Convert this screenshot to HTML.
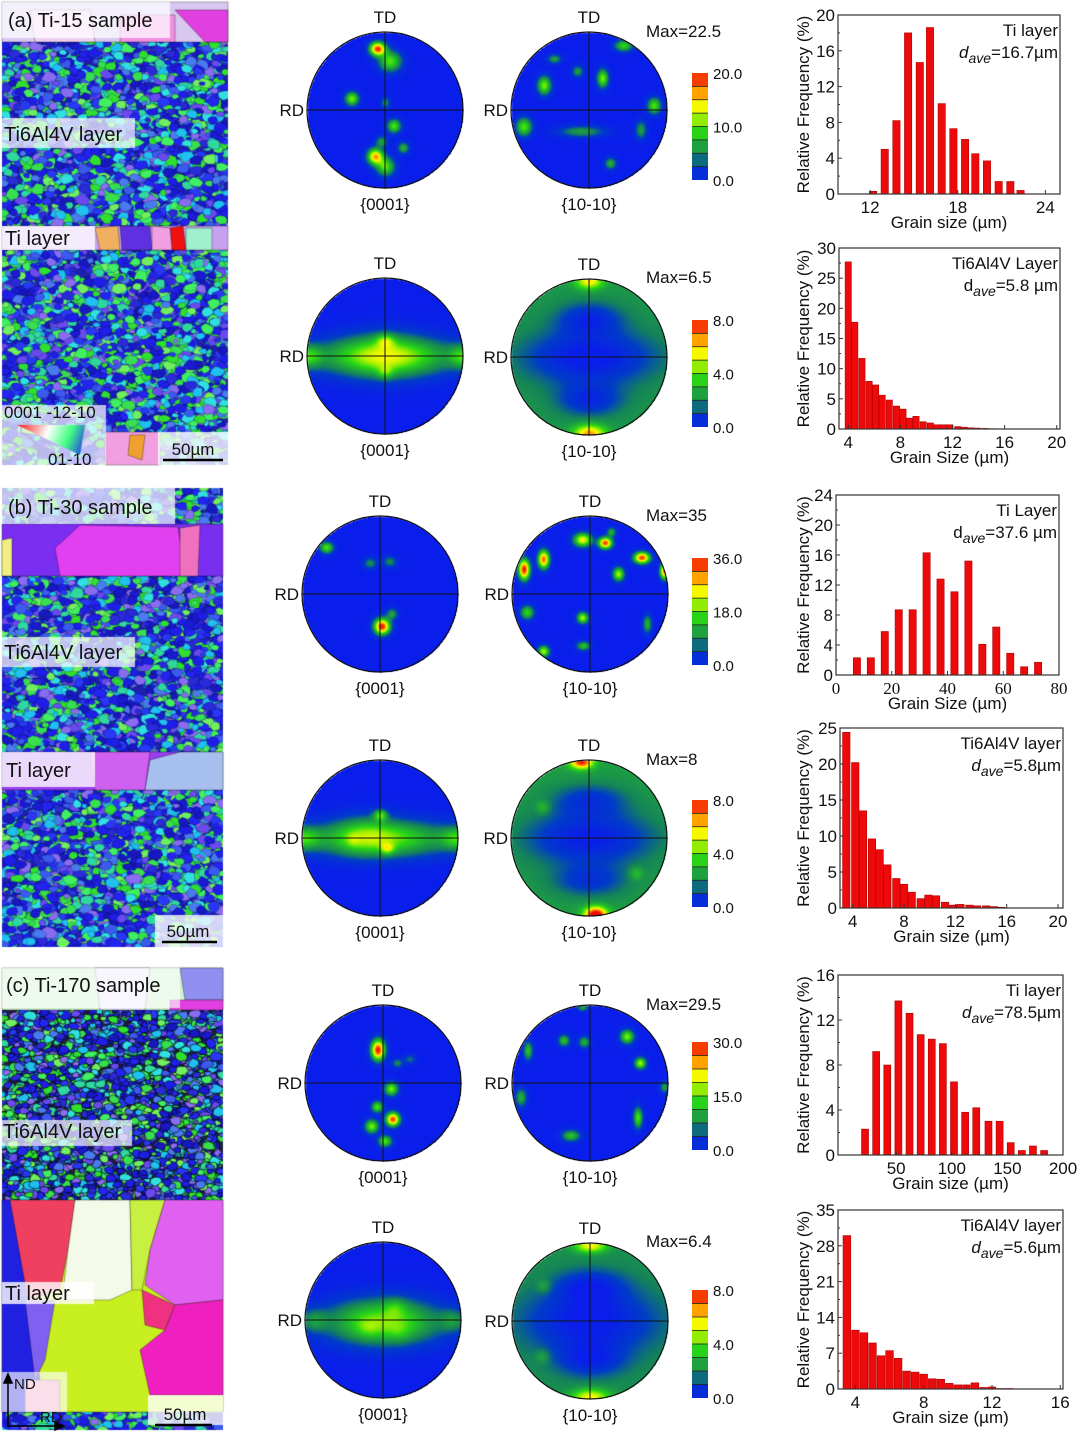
<!DOCTYPE html>
<html><head><meta charset="utf-8">
<style>
html,body{margin:0;padding:0;background:#fff;}
#root{position:relative;width:1080px;height:1432px;overflow:hidden;font-family:"Liberation Sans",sans-serif;}
canvas{position:absolute;left:0;top:0;}
svg{position:absolute;left:0;top:0;}
</style></head>
<body>
<div id="root">
<canvas id="ebsd" width="1080" height="1432"></canvas>
<canvas id="poles" width="1080" height="1432"></canvas>
<svg id="ov" width="1080" height="1432" viewBox="0 0 1080 1432"></svg>
</div>
<script>
// ---------- Histogram data ----------
const h1Centers=[12.2,13.0,13.8,14.6,15.4,16.1,16.9,17.7,18.5,19.2,20.0,20.8,21.6,22.3];
const h1Values=[0.3,5.0,8.2,18.0,14.7,18.6,10.1,7.3,6.1,4.5,3.7,1.4,1.4,0.4];
const h1XTicks=[12,18,24];
const h1YTicks=[0,4,8,12,16,20];

const h2Centers=[4.0,4.5,5.05,5.6,6.1,6.6,7.15,7.7,8.2,8.7,9.2,9.75,10.3,10.8,11.3,11.8,12.4,12.9,13.4,13.9,14.5,15.0];
const h2Values=[27.7,17.7,11.7,7.9,7.3,5.6,4.8,3.8,3.3,1.8,2.1,1.2,1.0,0.7,0.7,0.7,0.4,0.3,0.2,0.15,0.1,0.05];
const h2XTicks=[4,8,12,16,20];
const h2YTicks=[0,5,10,15,20,25,30];

const h3Centers=[7.5,12.5,17.5,22.5,27.5,32.5,37.5,42.5,47.5,52.5,57.5,62.5,67.5,72.5];
const h3Values=[2.3,2.3,5.8,8.7,8.7,16.3,12.8,11.1,15.2,4.1,6.4,2.9,1.1,1.7];
const h3XTicks=[0,20,40,60,80];
const h3YTicks=[0,4,8,12,16,20,24];

const h4Centers=[3.5,4.2,4.8,5.5,6.1,6.7,7.4,8.0,8.6,9.3,9.9,10.5,11.2,11.8,12.4,13.1,13.7,14.4,15.0,15.6];
const h4Values=[24.4,20.2,13.5,9.6,8.1,6.0,4.1,3.3,2.2,1.3,1.8,1.7,0.8,0.4,0.5,0.4,0.3,0.3,0.2,0.1];
const h4XTicks=[4,8,12,16,20];
const h4YTicks=[0,5,10,15,20,25];

const h5Centers=[22,32,42,52,62,72,82,92,102,112,122,133,143,153,163,173,183];
const h5Values=[2.3,9.2,8.0,13.7,12.6,10.7,10.3,9.9,6.5,3.8,4.2,3.0,3.0,1.1,0.4,0.8,0.4];
const h5XTicks=[50,100,150,200];
const h5YTicks=[0,4,8,12,16];

const h6Centers=[3.5,4.0,4.5,5.0,5.5,6.0,6.5,7.0,7.5,8.0,8.5,9.0,9.5,10.0,10.5,11.0,11.5,12.0,12.5,13.0];
const h6Values=[30,11.5,11,9,6.5,7.5,6,3.5,3.3,2.9,2,1.9,1.1,0.8,0.8,1.2,0.3,0.4,0.1,0.1];
const h6XTicks=[4,8,12,16];
const h6YTicks=[0,7,14,21,28,35];

// ---------- Pole figure blobs: [u, v, sx, sy, intensity] ----------
const pfA1a=[[-0.10,-0.79,0.07,0.06,0.95],[0.06,-0.63,0.10,0.09,0.5],[-0.43,-0.15,0.06,0.06,0.55],[0.11,0.20,0.06,0.06,0.5],[-0.13,0.59,0.07,0.07,0.8],[0.0,0.72,0.08,0.08,0.5],[0.23,0.48,0.05,0.05,0.35],[0,-0.1,0.04,0.05,0.25],[-0.05,0.4,0.05,0.05,0.3]];
const pfA1b=[[0.44,-0.83,0.08,0.05,0.45],[-0.58,-0.32,0.06,0.08,0.55],[0.17,-0.41,0.05,0.08,0.55],[0.83,-0.06,0.06,0.07,0.5],[-0.84,0.21,0.07,0.08,0.5],[-0.1,0.27,0.2,0.05,0.3],[0.27,0.68,0.05,0.05,0.35],[-0.45,-0.66,0.06,0.04,0.3],[-0.15,-0.5,0.05,0.05,0.3],[0.66,0.25,0.05,0.08,0.3]];
const pfA2a=[[0,0,0.62,0.17,0.55],[0,-0.02,0.32,0.22,0.15],[0,-0.2,0.08,0.06,0.3],[0,0.2,0.07,0.06,0.2],[-1,0,0.12,0.1,0.35],[1,0,0.12,0.1,0.35]];
const pfA2b=[[0,0,0.6,0.25,-0.3],[0,-0.5,0.3,0.15,-0.22],[0,0.55,0.3,0.15,-0.22],[0,-0.98,0.12,0.07,0.45],[0,0.98,0.14,0.08,0.55]];
const pfB1a=[[-0.69,-0.6,0.06,0.05,0.5],[0.02,0.41,0.07,0.07,1.0],[-0.13,-0.4,0.06,0.05,0.25],[0.12,-0.42,0.06,0.05,0.25],[0.15,0.25,0.05,0.05,0.3]];
const pfB1b=[[-0.85,-0.32,0.05,0.09,1.0],[-0.6,-0.45,0.05,0.08,0.9],[-0.1,-0.7,0.08,0.06,0.7],[0.19,-0.66,0.06,0.05,0.95],[0.66,-0.47,0.07,0.05,0.95],[0.95,-0.3,0.04,0.07,0.9],[0.36,-0.26,0.05,0.06,0.6],[-0.1,0.3,0.05,0.05,0.6],[-0.81,0.23,0.06,0.06,0.45],[-0.6,0.73,0.05,0.05,0.6],[-0.09,0.66,0.06,0.04,0.4],[0.73,0.38,0.04,0.08,0.35],[0.27,-0.8,0.04,0.04,0.35]];
const pfB2a=[[0,0,0.62,0.16,0.52],[-0.2,-0.05,0.25,0.18,0.15],[0,-0.3,0.06,0.05,0.4],[0.09,0.13,0.06,0.05,0.3],[-0.35,0.02,0.06,0.06,0.1],[-1,0,0.15,0.1,0.35],[1,0,0.15,0.1,0.35]];
const pfB2b=[[0,0,0.6,0.25,-0.3],[0,-0.5,0.35,0.15,-0.2],[0,0.55,0.35,0.15,-0.2],[-0.1,-0.98,0.1,0.06,0.7],[0.08,0.98,0.1,0.07,0.85],[-0.6,-0.4,0.06,0.06,0.15],[0.6,0.45,0.06,0.06,0.15]];
const pfC1a=[[-0.07,-0.43,0.06,0.09,1.0],[0.1,0.07,0.06,0.06,0.55],[-0.08,0.3,0.05,0.05,0.5],[0.12,0.46,0.06,0.06,0.95],[-0.15,0.55,0.06,0.06,0.55],[0.02,0.74,0.06,0.05,0.5],[0.18,-0.26,0.05,0.04,0.25],[0.34,-0.31,0.05,0.04,0.2]];
const pfC1b=[[0.47,-0.6,0.06,0.06,0.55],[0.64,-0.26,0.05,0.05,0.6],[-0.34,-0.55,0.05,0.05,0.4],[-0.08,-0.53,0.05,0.05,0.35],[-0.8,-0.42,0.04,0.08,0.4],[-0.89,0.18,0.05,0.08,0.35],[0.61,0.44,0.04,0.09,0.5],[-0.25,0.67,0.08,0.05,0.4],[0.95,0.05,0.04,0.05,0.3],[-0.1,-0.97,0.05,0.03,0.3]];
const pfC2a=[[0,0.02,0.5,0.2,0.55],[0.15,-0.17,0.1,0.08,0.15],[-0.2,0.1,0.1,0.08,0.1],[0.2,0.15,0.1,0.08,0.08],[-0.9,0,0.12,0.1,0.2],[0.9,0,0.12,0.1,0.2]];
const pfC2b=[[0,0,0.6,0.3,-0.28],[0,-0.45,0.3,0.15,-0.2],[0,0.5,0.3,0.15,-0.2],[0,-0.97,0.14,0.06,0.45],[0,0.97,0.16,0.07,0.45],[-0.6,-0.45,0.06,0.06,0.12],[-0.62,0.45,0.06,0.06,0.12]];

// ---------- helpers ----------
const NS="http://www.w3.org/2000/svg";
const ov=document.getElementById('ov');
function mk(tag,attrs,parent){const e=document.createElementNS(NS,tag);for(const k in attrs)e.setAttribute(k,attrs[k]);(parent||ov).appendChild(e);return e;}
function txt(s,x,y,size,anchor,parent,extra){const t=mk('text',Object.assign({x:x,y:y,'font-size':size,'text-anchor':anchor||'start','font-family':'"Liberation Sans",sans-serif',fill:'#111'},extra||{}),parent);t.textContent=s;return t;}

const stops=[[0,[10,30,235]],[0.12,[0,60,200]],[0.22,[20,130,90]],[0.32,[30,165,60]],[0.45,[40,215,20]],[0.58,[160,240,0]],[0.7,[255,250,0]],[0.84,[255,140,0]],[1,[240,10,0]]];
function cmap(t){t=Math.max(0,Math.min(1,t));for(let i=1;i<stops.length;i++){if(t<=stops[i][0]){const a=stops[i-1],b=stops[i];const f=(t-a[0])/(b[0]-a[0]);return [0,1,2].map(k=>Math.round(a[1][k]+(b[1][k]-a[1][k])*f));}}return stops[stops.length-1][1];}

// ---------- pole figures ----------
const pctx=document.getElementById('poles').getContext('2d');
function drawPole(cx,cy,r,blobs,base){
  const img=pctx.createImageData(2*r+2,2*r+2);
  for(let j=0;j<2*r+2;j++)for(let i=0;i<2*r+2;i++){
    const u=(i-r)/r,v=(j-r)/r; if(u*u+v*v>1.0)continue;
    let val=base;
    for(const b of blobs){const du=(u-b[0])/b[2],dv=(v-b[1])/b[3];val+=b[4]*Math.exp(-(du*du+dv*dv)/2);}
    const c=cmap(val);const o=(j*(2*r+2)+i)*4;img.data[o]=c[0];img.data[o+1]=c[1];img.data[o+2]=c[2];img.data[o+3]=255;
  }
  pctx.putImageData(img,cx-r,cy-r);
  const g=mk('g',{});
  
  
  mk('circle',{cx:cx,cy:cy,r:r,fill:'none',stroke:'#111','stroke-width':1.2},g);
  mk('line',{x1:cx-r,y1:cy,x2:cx+r,y2:cy,stroke:'#111','stroke-width':1},g);
  mk('line',{x1:cx,y1:cy-r,x2:cx,y2:cy+r,stroke:'#111','stroke-width':1},g);
}
function poleLabels(cx,cy,r,plane){
  const a=txt('TD',cx,cy-r-9,17,'middle');
  
  
  const b=txt('RD',cx-r-3,cy+6,17,'end');
  
  
  const c=txt(plane,cx,cy+r+22,17,'middle');
  
  
}
function colorbar(y0,y1,labels,maxTxt,maxY){
  const g=mk('g',{});
  
  
  const n=8,h=(y1-y0)/n;
  for(let k=0;k<n;k++){const c=cmap((k+0.5)/n);mk('rect',{x:692,y:y1-(k+1)*h,width:16,height:h,fill:`rgb(${c[0]},${c[1]},${c[2]})`},g);
    if(k>0)mk('line',{x1:692,x2:708,y1:y1-k*h,y2:y1-k*h,stroke:'#222','stroke-width':0.8},g);}
  txt(labels[0],713,y0+6,15,'start',g);txt(labels[1],713,(y0+y1)/2+6,15,'start',g);txt(labels[2],713,y1+6,15,'start',g);
  const m=txt(maxTxt,646,maxY,17,'start');
  
  
}
const poleRows=[
 [110,110,385,589,pfA1a,pfA1b,0,0,['20.0','10.0','0.0'],'Max=22.5',73,180],
 [356,357,385,589,pfA2a,pfA2b,0,0.28,['8.0','4.0','0.0'],'Max=6.5',320,427],
 [594,594,380,590,pfB1a,pfB1b,0,0,['36.0','18.0','0.0'],'Max=35',558,665],
 [838,838,380,589,pfB2a,pfB2b,0,0.3,['8.0','4.0','0.0'],'Max=8',800,907],
 [1083,1083,383,590,pfC1a,pfC1b,0,0,['30.0','15.0','0.0'],'Max=29.5',1042,1150],
 [1320,1321,383,590,pfC2a,pfC2b,0,0.26,['8.0','4.0','0.0'],'Max=6.4',1290,1398]
];
for(const p of poleRows){
  const cy=p[0],cy2=p[1],r=78;
  drawPole(p[2],cy,r,p[4],p[6]);drawPole(p[3],cy2,r,p[5],p[7]);
  poleLabels(p[2],cy,r,'{0001}');poleLabels(p[3],cy2,r,'{10-10}');
  colorbar(p[10],p[11],p[8],p[9],cy-73);
}

// ---------- histograms ----------
function hist(name,f,xmin,xmax,ymax,xt,yt,centers,values,bw,xlabel,l1,l2,serif){
  const g=mk('g',{});
  
  
  const sx=v=>f[0]+(v-xmin)/(xmax-xmin)*(f[2]-f[0]);
  const sy=v=>f[3]-v/ymax*(f[3]-f[1]);
  for(let i=0;i<centers.length;i++){
    const b=mk('rect',{x:sx(centers[i]-bw/2),y:sy(values[i]),width:sx(centers[i]+bw/2)-sx(centers[i]-bw/2),height:f[3]-sy(values[i]),fill:'#ee0a0a',stroke:'#b00000','stroke-width':0.6},g);
    
    
  }
  mk('rect',{x:f[0],y:f[1],width:f[2]-f[0],height:f[3]-f[1],fill:'none',stroke:'#333','stroke-width':1.2},g);
  const fam=serif?'"Liberation Serif",serif':'"Liberation Sans",sans-serif';
  for(const v of yt){const y=sy(v);mk('line',{x1:f[0],x2:f[0]+4,y1:y,y2:y,stroke:'#333'},g);txt(String(v),f[0]-3,y+6,17,'end',g);}
  for(let k=0;k<yt.length-1;k++){const y=sy((yt[k]+yt[k+1])/2);mk('line',{x1:f[0],x2:f[0]+2,y1:y,y2:y,stroke:'#333'},g);}
  for(const v of xt){const x=sx(v);mk('line',{x1:x,x2:x,y1:f[3],y2:f[3]-4,stroke:'#333'},g);txt(String(v),x,f[3]+19,17,'middle',g,{'font-family':fam});}
  const xl=txt(xlabel,(f[0]+f[2])/2,f[3]+34,17,'middle',g);
  
  
  const ym=(f[1]+f[3])/2;
  const yl=txt('Relative Frequency (%)',0,0,17,'middle',g,{transform:`translate(809,${ym}) rotate(-90)`});
  
  
  const t1=txt(l1,f[2]-2,f[1]+21,17,'end',g);
  
  
  const t2=mk('text',{x:f[2]-2,y:f[1]+43,'font-size':17,'text-anchor':'end','font-family':'"Liberation Sans",sans-serif',fill:'#111'},g);
  
  
  const s1=mk('tspan',{'font-style':l2[0]?'italic':'normal'},t2);s1.textContent='d';
  const s2=mk('tspan',{'font-style':'italic','font-size':14,dy:5},t2);s2.textContent='ave';
  const s3=mk('tspan',{dy:-5},t2);s3.textContent=l2[1];
}
hist('hist-a-ti',[838,15,1060,194],9.8,25,20,h1XTicks,h1YTicks,h1Centers,h1Values,0.5,'Grain size (µm)','Ti layer',[1,'=16.7µm']);
hist('hist-a-ti6al4v',[839,248,1060,429],3.29,20.25,30,h2XTicks,h2YTicks,h2Centers,h2Values,0.48,'Grain Size (µm)','Ti6Al4V Layer',[0,'=5.8 µm']);
hist('hist-b-ti',[836,495,1059,675],0,80,24,h3XTicks,h3YTicks,h3Centers,h3Values,2.6,'Grain Size (µm)','Ti Layer',[0,'=37.6 µm'],true);
hist('hist-b-ti6al4v',[840,728,1063,908],3.01,20.39,25,h4XTicks,h4YTicks,h4Centers,h4Values,0.58,'Grain size (µm)','Ti6Al4V layer',[1,'=5.8µm']);
hist('hist-c-ti',[838,975,1063,1155],-2.3,200,16,h5XTicks,h5YTicks,h5Centers,h5Values,6.3,'Grain size (µm)','Ti layer',[1,'=78.5µm']);
hist('hist-c-ti6al4v',[838,1210,1063,1389],2.98,16.16,35,h6XTicks,h6YTicks,h6Centers,h6Values,0.45,'Grain size (µm)','Ti6Al4V layer',[1,'=5.6µm']);

// ---------- EBSD maps ----------
const ctx=document.getElementById('ebsd').getContext('2d');
let seed=12345;function rnd(){seed|=0;seed=seed+0x6D2B79F5|0;let t=Math.imul(seed^seed>>>15,1|seed);t=t+Math.imul(t^t>>>7,61|t)^t;return((t^t>>>14)>>>0)/4294967296;}
const pal=['#1e1ee6','#1e1ee6','#2424f0','#1a1ad0','#2838f5','#2a2ad8','#38e050','#40f060','#30e030','#30d8a0','#30e0e0','#4a7af0','#6a4af0','#8a6cf0','#20c0f0','#70f060','#3a5af0','#1818c0'];
function grains(x0,y0,x1,y1,sz,dark){
  ctx.save();ctx.beginPath();ctx.rect(x0,y0,x1-x0,y1-y0);ctx.clip();
  ctx.fillStyle=dark?'#202040':'#2020b0';ctx.fillRect(x0,y0,x1-x0,y1-y0);
  const n=Math.round((x1-x0)*(y1-y0)/(sz*sz)*1.8);
  for(let k=0;k<n;k++){const cx=x0+rnd()*(x1-x0),cy=y0+rnd()*(y1-y0),rr=sz*(0.45+rnd()*0.7);
    ctx.beginPath();for(let a=0;a<7;a++){const ang=a/7*Math.PI*2,q=rr*(0.7+rnd()*0.5);const px=cx+Math.cos(ang)*q*1.2,py=cy+Math.sin(ang)*q*0.9;a?ctx.lineTo(px,py):ctx.moveTo(px,py);}
    ctx.closePath();ctx.fillStyle=pal[Math.floor(rnd()*pal.length)];ctx.fill();ctx.strokeStyle=dark?'rgba(0,0,0,0.6)':'rgba(0,0,40,0.4)';ctx.lineWidth=dark?1.0:0.6;ctx.stroke();}
  ctx.restore();
}
function poly(pts,col){ctx.beginPath();pts.forEach((p,i)=>i?ctx.lineTo(p[0],p[1]):ctx.moveTo(p[0],p[1]));ctx.closePath();ctx.fillStyle=col;ctx.fill();ctx.strokeStyle='rgba(0,0,0,0.4)';ctx.lineWidth=0.8;ctx.stroke();}
function box(x,y,w,h,a){ctx.fillStyle=`rgba(255,255,255,${a||0.72})`;ctx.fillRect(x,y,w,h);}
// panel a
grains(2,2,228,465,5.5);
poly([[2,2],[228,2],[228,42],[2,42]],'#d8c8f0');poly([[30,10],[90,10],[95,42],[35,42]],'#f0d0f0');poly([[120,15],[175,15],[175,42],[120,42]],'#f090e0');poly([[175,10],[228,10],[228,42],[205,42]],'#e040e0');
poly([[2,226],[228,226],[228,250],[2,250]],'#c8a0f0');poly([[95,228],[118,226],[120,250],[100,250]],'#f0b060');poly([[120,226],[150,226],[152,250],[122,250]],'#6030e0');poly([[170,228],[183,226],[186,250],[172,250]],'#f01010');poly([[186,228],[212,228],[212,250],[186,250]],'#a0f0d0');poly([[152,226],[170,228],[172,250],[152,250]],'#f0a0e0');
poly([[105,432],[160,432],[160,465],[105,465]],'#f0a0e0');poly([[130,435],[145,435],[142,460],[128,455]],'#f0a030');
box(2,2,168,36);box(2,118,133,30);box(2,226,93,24,0.8);box(2,405,104,60,0.7);box(158,432,70,33,0.8);
const tg=ctx.createLinearGradient(18,428,85,455);tg.addColorStop(0,'#ff2020');tg.addColorStop(0.4,'#ffffff');tg.addColorStop(0.7,'#40ff80');tg.addColorStop(1,'#2020ff');
ctx.beginPath();ctx.moveTo(17,425);ctx.lineTo(85,425);ctx.lineTo(80,455);ctx.closePath();ctx.fillStyle=tg;ctx.fill();
// panel b
grains(2,488,223,947,5.5);
poly([[2,524],[223,524],[223,576],[2,576]],'#7a2ef0');poly([[55,548],[80,525],[178,527],[185,576],[60,576]],'#e040f0');poly([[180,528],[200,525],[198,576],[180,576]],'#f070c0');poly([[2,540],[12,538],[12,576],[2,576]],'#f0f080');
poly([[2,752],[223,752],[223,790],[2,790]],'#9a40f0');poly([[90,752],[150,752],[145,790],[95,790]],'#d060f0');poly([[150,760],[180,752],[223,752],[223,790],[145,790]],'#a8c0f0');
box(2,488,173,36);box(2,637,133,30);box(2,752,93,35,0.8);box(155,915,68,32,0.8);
// panel c
grains(2,968,223,1430,5.5);
grains(2,1010,223,1200,5,true);
poly([[2,968],[223,968],[223,1010],[2,1010]],'#d0f0d0');poly([[95,968],[150,968],[145,1010],[100,1010]],'#e8e8f8');poly([[180,968],[223,968],[223,1000],[185,1000]],'#9090f0');poly([[170,1000],[223,1000],[223,1010],[170,1010]],'#e040e0');
box(2,968,178,40,0.65);
poly([[2,1200],[223,1200],[223,1412],[2,1412]],'#c8f020');
poly([[2,1200],[12,1200],[30,1300],[40,1380],[40,1412],[2,1412]],'#2020e0');
poly([[10,1200],[75,1200],[68,1250],[60,1290],[28,1300]],'#f04060');
poly([[75,1200],[130,1200],[132,1290],[110,1300],[62,1300],[68,1250]],'#f4fae8');
poly([[130,1200],[165,1200],[150,1250],[142,1290],[132,1290]],'#c8f040');
poly([[165,1200],[223,1200],[223,1300],[175,1305],[145,1285],[150,1250]],'#e060f0');
poly([[142,1290],[175,1305],[165,1330],[145,1325]],'#f03080');
poly([[175,1305],[223,1300],[223,1395],[150,1395],[140,1350],[165,1330]],'#f020c0');
poly([[25,1300],[55,1300],[45,1360],[35,1380]],'#8060f0');
poly([[25,1380],[60,1380],[60,1412],[25,1412]],'#f0a0c0');
box(2,1282,92,22,0.8);box(2,1372,65,40,0.65);box(148,1395,75,30,0.8);box(2,1120,130,26,0.7);

const ebsdLabels=[['(a) Ti-15 sample',8,27,20],['Ti6Al4V layer',4,141,20],['Ti layer',5,245,20],['0001 -12-10',4,418,17],['01-10',48,465,17],
['(b) Ti-30 sample',8,514,20],['Ti6Al4V layer',4,659,20],['Ti layer',6,777,20],
['(c) Ti-170 sample',6,992,20],['Ti6Al4V layer',3,1138,20],['Ti layer',5,1300,20],['ND',14,1389,15],['RD',40,1422,15]];
for(const L of ebsdLabels){const t=txt(L[0],L[1],L[2],L[3],'start');
  
  }
const scales=[[193,455,163,223,460],[188,937,162,217,942],[185,1420,155,212,1425]];
for(const s of scales){const t=txt('50µm',s[0],s[1],17,'middle');
  
  
  const l=mk('line',{x1:s[2],x2:s[3],y1:s[4],y2:s[4],stroke:'#000','stroke-width':2.5});
  
  }
const ax=mk('g',{stroke:'#000','stroke-width':1.5,fill:'none'});


mk('polyline',{points:'8,1377 8,1426 60,1426'},ax);
mk('polygon',{points:'4,1383 8,1374 12,1383',fill:'#000'},ax);
mk('polygon',{points:'55,1422 64,1426 55,1430',fill:'#000'},ax);
</script>
</body></html>
